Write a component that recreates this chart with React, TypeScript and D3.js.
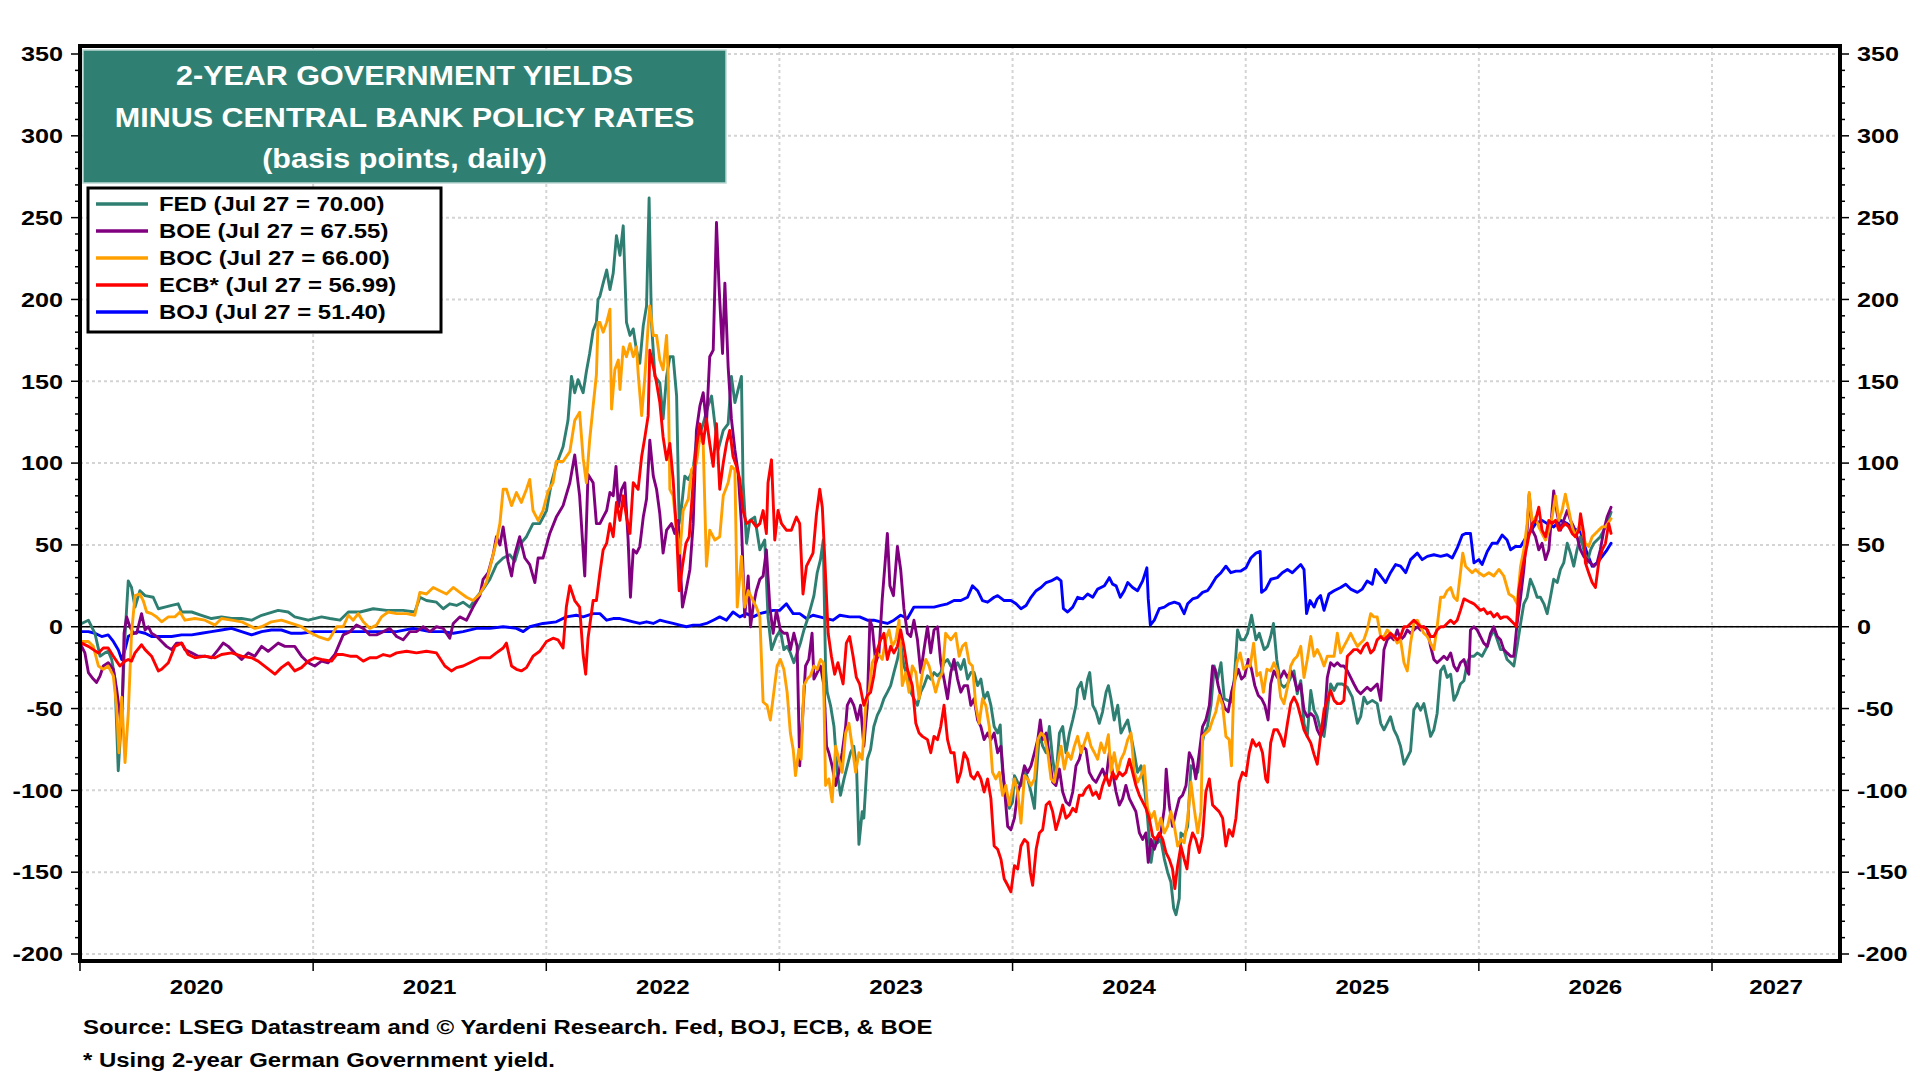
import React from "react";
import * as d3 from "d3";

type Pt = [number, number];

// time in fractional years, values in basis points
const fedData: Pt[] = [
	[2020.007, 2], [2020.036, 4], [2020.064, -4], [2020.086, -18], [2020.107, -16], [2020.121, -15], [2020.136, -20], [2020.15, -32], [2020.164, -88], [2020.179, -53], [2020.193, -6], [2020.207, 28], [2020.221, 24], [2020.236, 12], [2020.257, 22], [2020.279, 19], [2020.314, 18], [2020.336, 11], [2020.364, 12], [2020.393, 13], [2020.421, 14], [2020.436, 9], [2020.479, 9], [2020.521, 7], [2020.564, 5], [2020.607, 6], [2020.65, 5], [2020.693, 5], [2020.736, 4], [2020.779, 7], [2020.85, 10], [2020.893, 9], [2020.921, 6], [2020.979, 4], [2021.036, 6],
	[2021.072, 5], [2021.115, 4], [2021.151, 9], [2021.201, 9], [2021.258, 11], [2021.315, 10], [2021.386, 10], [2021.436, 9], [2021.458, 18], [2021.486, 16], [2021.529, 15], [2021.558, 11], [2021.586, 14], [2021.615, 13], [2021.643, 15], [2021.672, 12], [2021.701, 18], [2021.729, 23], [2021.758, 29], [2021.786, 38], [2021.815, 42], [2021.843, 44], [2021.865, 40], [2021.886, 50], [2021.915, 55], [2021.943, 63], [2021.972, 63], [2022.001, 71], [2022.022, 88], [2022.043, 99], [2022.072, 110], [2022.093, 126], [2022.108, 153], [2022.122, 143], [2022.136, 151], [2022.158, 143], [2022.172, 156], [2022.186, 167], [2022.201, 181], [2022.215, 186], [2022.222, 200],
	[2022.23, 202], [2022.244, 210], [2022.259, 218], [2022.273, 206], [2022.287, 216], [2022.301, 239], [2022.316, 227], [2022.33, 245], [2022.344, 186], [2022.359, 178], [2022.373, 182], [2022.387, 169], [2022.401, 161], [2022.416, 184], [2022.43, 196], [2022.441, 262], [2022.451, 186], [2022.466, 153], [2022.487, 149], [2022.501, 127], [2022.516, 153], [2022.53, 165], [2022.544, 165], [2022.559, 141], [2022.57, 63], [2022.58, 73], [2022.594, 92], [2022.609, 90], [2022.63, 96], [2022.644, 114], [2022.659, 118], [2022.673, 124], [2022.694, 135], [2022.709, 141], [2022.723, 124], [2022.737, 108], [2022.759, 120], [2022.78, 124], [2022.794, 153], [2022.809, 137], [2022.823, 145], [2022.837, 153], [2022.844, 88], [2022.859, 51], [2022.873, 65], [2022.894, 67], [2022.916, 47], [2022.937, 53], [2022.951, 6], [2022.966, -14], [2022.987, -6],
	[2023.004, -2], [2023.019, -14], [2023.033, -12], [2023.047, -16], [2023.062, -22], [2023.076, -16], [2023.09, -10], [2023.105, -2], [2023.119, 4], [2023.133, 11], [2023.148, 19], [2023.162, 33], [2023.176, 41], [2023.188, 53], [2023.198, -26], [2023.205, -40], [2023.219, -48], [2023.234, -61], [2023.248, -89], [2023.262, -103], [2023.277, -93], [2023.291, -85], [2023.305, -77], [2023.319, -73], [2023.331, -87], [2023.341, -133], [2023.355, -113], [2023.362, -117], [2023.377, -81], [2023.391, -75], [2023.405, -61], [2023.42, -54], [2023.434, -50], [2023.448, -44], [2023.463, -40], [2023.477, -36], [2023.491, -28], [2023.506, -20], [2023.52, -10], [2023.534, -24], [2023.549, -30], [2023.563, -40], [2023.577, -44], [2023.592, -48], [2023.606, -40], [2023.62, -36], [2023.635, -30], [2023.649, -32], [2023.663, -28], [2023.678, -30], [2023.692, -28], [2023.706, -22], [2023.721, -20], [2023.735, -24], [2023.749, -26], [2023.764, -22], [2023.778, -26], [2023.792, -20], [2023.807, -32], [2023.821, -28], [2023.835, -28], [2023.85, -36], [2023.864, -32], [2023.878, -44], [2023.893, -40], [2023.907, -48], [2023.921, -61], [2023.936, -65], [2023.947, -60], [2023.957, -89], [2023.971, -103], [2023.986, -111],
	[2024.0, -107], [2024.008, -91], [2024.022, -95], [2024.036, -97], [2024.051, -87], [2024.065, -93], [2024.079, -101], [2024.094, -111], [2024.101, -93], [2024.115, -65], [2024.129, -73], [2024.144, -77], [2024.158, -61], [2024.172, -81], [2024.186, -93], [2024.201, -65], [2024.215, -61], [2024.229, -77], [2024.244, -65], [2024.258, -57], [2024.272, -48], [2024.279, -38], [2024.294, -34], [2024.308, -44], [2024.322, -32], [2024.331, -28], [2024.344, -48], [2024.358, -52], [2024.372, -59], [2024.386, -52], [2024.401, -40], [2024.411, -36], [2024.422, -44], [2024.436, -57], [2024.451, -48], [2024.465, -65], [2024.479, -61], [2024.494, -57], [2024.508, -67], [2024.522, -77], [2024.536, -89], [2024.551, -85], [2024.565, -97], [2024.579, -117], [2024.594, -144], [2024.608, -130], [2024.622, -132], [2024.636, -130], [2024.651, -142], [2024.665, -150], [2024.679, -156], [2024.691, -172], [2024.701, -176], [2024.715, -166], [2024.722, -126], [2024.736, -128], [2024.751, -122], [2024.765, -85], [2024.779, -87], [2024.794, -89], [2024.808, -75], [2024.822, -65], [2024.836, -61], [2024.851, -48], [2024.865, -24], [2024.879, -32], [2024.894, -22], [2024.908, -44], [2024.922, -45], [2024.936, -46], [2024.951, -32], [2024.965, -2], [2024.979, -8], [2024.994, -8], [2025.008, -4], [2025.025, 7], [2025.044, -8], [2025.058, -4], [2025.079, -14], [2025.094, -12],
	[2025.107, -6], [2025.119, 2], [2025.133, -20], [2025.15, -35], [2025.164, -37], [2025.179, -35], [2025.193, -31], [2025.207, -27], [2025.221, -41], [2025.236, -33], [2025.25, -59], [2025.264, -67], [2025.279, -39], [2025.293, -51], [2025.307, -55], [2025.321, -63], [2025.336, -67], [2025.35, -51], [2025.364, -35], [2025.379, -39], [2025.393, -35], [2025.414, -35], [2025.436, -37], [2025.457, -43], [2025.479, -59], [2025.493, -55], [2025.507, -43], [2025.521, -47], [2025.543, -45], [2025.564, -47], [2025.579, -59], [2025.593, -63], [2025.607, -59], [2025.621, -55], [2025.636, -63], [2025.65, -67], [2025.664, -73], [2025.679, -84], [2025.693, -80], [2025.707, -76], [2025.721, -51], [2025.736, -47], [2025.75, -51], [2025.764, -47], [2025.779, -57], [2025.793, -67], [2025.807, -63], [2025.821, -53], [2025.836, -27], [2025.85, -24], [2025.864, -31], [2025.879, -29], [2025.893, -45], [2025.907, -41], [2025.921, -35], [2025.936, -33], [2025.95, -22], [2025.964, -18], [2025.979, -18], [2025.993, -16], [2026.014, -18], [2026.036, -12], [2026.05, -6], [2026.064, -2], [2026.079, -8], [2026.093, -14], [2026.107, -14], [2026.121, -20], [2026.136, -22], [2026.15, -24], [2026.164, -12], [2026.179, 2], [2026.193, 14], [2026.207, 18], [2026.221, 29], [2026.236, 24], [2026.25, 18], [2026.264, 18], [2026.279, 14], [2026.293, 8], [2026.307, 18], [2026.321, 29], [2026.336, 27], [2026.35, 35], [2026.364, 39], [2026.379, 51], [2026.393, 45], [2026.407, 37], [2026.421, 47], [2026.436, 55], [2026.45, 47], [2026.464, 39], [2026.479, 47], [2026.493, 51], [2026.507, 53], [2026.521, 55], [2026.536, 59], [2026.55, 63], [2026.567, 70],
];

const boeData: Pt[] = [
	[2020.007, -12], [2020.021, -16], [2020.036, -28], [2020.057, -32], [2020.071, -34], [2020.086, -30], [2020.1, -24], [2020.121, -22], [2020.143, -26], [2020.157, -38], [2020.179, -63], [2020.189, -4], [2020.2, 6], [2020.214, 0], [2020.229, -4], [2020.243, -4], [2020.264, 8], [2020.279, -2], [2020.293, 0], [2020.307, -4], [2020.329, -6], [2020.35, -9], [2020.371, -12], [2020.393, -14], [2020.414, -10], [2020.436, -10], [2020.45, -14], [2020.479, -16], [2020.507, -18], [2020.536, -18], [2020.564, -19], [2020.593, -14], [2020.614, -10], [2020.636, -12], [2020.664, -16], [2020.693, -20], [2020.721, -16], [2020.75, -18], [2020.779, -12], [2020.807, -15], [2020.85, -10], [2020.879, -12], [2020.921, -12], [2020.95, -18], [2020.979, -22], [2021.007, -24], [2021.036, -21], [2021.064, -22],
	[2021.093, -17], [2021.108, -12], [2021.129, -5], [2021.158, -3], [2021.186, 1], [2021.215, -1], [2021.243, -5], [2021.272, -5], [2021.301, -3], [2021.329, -1], [2021.358, -6], [2021.386, -8], [2021.415, -3], [2021.443, -3], [2021.472, 0], [2021.501, -3], [2021.529, 0], [2021.558, -1], [2021.586, -7], [2021.601, 2], [2021.629, 6], [2021.658, 4], [2021.686, 12], [2021.715, 19], [2021.729, 29], [2021.751, 33], [2021.772, 44], [2021.786, 55], [2021.801, 50], [2021.815, 61], [2021.836, 40], [2021.851, 31], [2021.865, 44], [2021.886, 55], [2021.908, 42], [2021.929, 38], [2021.951, 27], [2021.965, 42], [2021.986, 42], [2022.015, 57], [2022.043, 67], [2022.072, 74], [2022.101, 88], [2022.122, 105], [2022.143, 80], [2022.165, 31], [2022.179, 93], [2022.201, 88], [2022.215, 63],
	[2022.23, 63], [2022.244, 67], [2022.259, 71], [2022.273, 82], [2022.287, 80], [2022.299, 98], [2022.309, 73], [2022.323, 84], [2022.337, 88], [2022.351, 53], [2022.361, 18], [2022.373, 47], [2022.387, 45], [2022.401, 49], [2022.416, 67], [2022.43, 78], [2022.444, 114], [2022.459, 92], [2022.473, 84], [2022.487, 69], [2022.501, 45], [2022.516, 59], [2022.537, 63], [2022.551, 57], [2022.566, 65], [2022.573, 43], [2022.584, 12], [2022.599, 22], [2022.616, 35], [2022.63, 63], [2022.644, 120], [2022.659, 135], [2022.673, 143], [2022.687, 124], [2022.701, 165], [2022.716, 169], [2022.73, 247], [2022.741, 208], [2022.756, 167], [2022.766, 210], [2022.78, 159], [2022.794, 127], [2022.809, 108], [2022.823, 94], [2022.837, 63], [2022.851, 6], [2022.866, 31], [2022.876, 0], [2022.887, 12], [2022.901, 22], [2022.916, 29], [2022.93, 31], [2022.944, 47], [2022.959, 12], [2022.973, -4], [2022.987, 10],
	[2023.004, -2], [2023.019, -4], [2023.033, -4], [2023.047, -14], [2023.062, -4], [2023.076, -12], [2023.087, -85], [2023.097, -61], [2023.112, -24], [2023.126, -20], [2023.14, -4], [2023.148, -32], [2023.162, -28], [2023.176, -24], [2023.191, -36], [2023.202, -73], [2023.212, -77], [2023.226, -85], [2023.241, -97], [2023.255, -89], [2023.269, -77], [2023.284, -61], [2023.291, -48], [2023.305, -44], [2023.319, -48], [2023.334, -57], [2023.348, -48], [2023.362, -73], [2023.377, -48], [2023.388, 4], [2023.398, 0], [2023.413, -22], [2023.427, -16], [2023.441, 17], [2023.451, 35], [2023.463, 57], [2023.474, 25], [2023.489, 19], [2023.506, 49], [2023.52, 35], [2023.534, 11], [2023.549, -4], [2023.563, -6], [2023.577, 4], [2023.592, -8], [2023.606, -28], [2023.62, -14], [2023.635, 0], [2023.649, -16], [2023.663, -2], [2023.678, 0], [2023.692, -22], [2023.706, -32], [2023.721, -44], [2023.735, -28], [2023.749, -20], [2023.764, -32], [2023.778, -40], [2023.792, -36], [2023.807, -36], [2023.821, -48], [2023.835, -44], [2023.85, -57], [2023.864, -61], [2023.878, -69], [2023.893, -65], [2023.907, -69], [2023.921, -65], [2023.936, -77], [2023.95, -73], [2023.964, -97], [2023.979, -122], [2023.993, -124],
	[2024.008, -117], [2024.022, -101], [2024.036, -95], [2024.051, -85], [2024.065, -89], [2024.079, -85], [2024.094, -77], [2024.108, -69], [2024.119, -57], [2024.129, -69], [2024.144, -65], [2024.158, -79], [2024.172, -95], [2024.186, -97], [2024.201, -87], [2024.215, -101], [2024.229, -107], [2024.244, -109], [2024.258, -101], [2024.272, -85], [2024.286, -81], [2024.301, -73], [2024.315, -75], [2024.329, -89], [2024.344, -93], [2024.358, -95], [2024.372, -91], [2024.386, -87], [2024.401, -93], [2024.415, -77], [2024.429, -89], [2024.444, -101], [2024.458, -109], [2024.472, -105], [2024.486, -97], [2024.501, -105], [2024.515, -109], [2024.529, -113], [2024.544, -126], [2024.558, -130], [2024.572, -126], [2024.582, -144], [2024.594, -130], [2024.608, -136], [2024.622, -130], [2024.636, -126], [2024.651, -111], [2024.659, -87], [2024.672, -109], [2024.686, -122], [2024.701, -113], [2024.715, -105], [2024.729, -103], [2024.744, -97], [2024.758, -77], [2024.772, -81], [2024.786, -93], [2024.801, -77], [2024.815, -61], [2024.829, -57], [2024.844, -48], [2024.858, -24], [2024.868, -26], [2024.882, -36], [2024.896, -44], [2024.911, -50], [2024.925, -52], [2024.939, -40], [2024.954, -32], [2024.968, -26], [2024.982, -32], [2024.996, -30], [2025.011, -20], [2025.025, -26], [2025.039, -36], [2025.054, -42], [2025.068, -44], [2025.082, -48], [2025.096, -57],
	[2025.107, -35], [2025.121, -27], [2025.136, -31], [2025.15, -31], [2025.164, -27], [2025.179, -31], [2025.193, -27], [2025.207, -31], [2025.221, -39], [2025.236, -35], [2025.25, -51], [2025.264, -55], [2025.279, -53], [2025.293, -55], [2025.307, -63], [2025.321, -67], [2025.336, -61], [2025.35, -31], [2025.364, -22], [2025.379, -24], [2025.393, -22], [2025.407, -24], [2025.421, -24], [2025.436, -27], [2025.45, -31], [2025.464, -35], [2025.479, -39], [2025.493, -41], [2025.507, -39], [2025.521, -37], [2025.536, -39], [2025.55, -37], [2025.564, -35], [2025.579, -45], [2025.593, -14], [2025.607, -8], [2025.621, -6], [2025.636, -8], [2025.65, -2], [2025.664, -8], [2025.679, -6], [2025.693, -2], [2025.707, -4], [2025.721, -2], [2025.736, 0], [2025.75, -2], [2025.764, 0], [2025.779, -2], [2025.793, -12], [2025.807, -20], [2025.821, -22], [2025.836, -20], [2025.85, -18], [2025.864, -20], [2025.879, -16], [2025.893, -24], [2025.907, -27], [2025.921, -22], [2025.936, -20], [2025.95, -27], [2025.957, -29], [2025.964, -2], [2025.979, 0], [2025.993, -2], [2026.007, -6], [2026.021, -10], [2026.036, -12], [2026.05, -4], [2026.064, 0], [2026.079, -6], [2026.093, -8], [2026.107, -14], [2026.121, -16], [2026.136, -18], [2026.15, -18], [2026.164, 2], [2026.179, 18], [2026.193, 35], [2026.207, 59], [2026.216, 81], [2026.229, 59], [2026.243, 55], [2026.257, 47], [2026.271, 51], [2026.286, 41], [2026.3, 47], [2026.314, 71], [2026.321, 83], [2026.336, 69], [2026.35, 59], [2026.364, 65], [2026.379, 71], [2026.393, 65], [2026.407, 61], [2026.421, 55], [2026.436, 47], [2026.45, 43], [2026.464, 41], [2026.479, 39], [2026.493, 37], [2026.507, 39], [2026.521, 47], [2026.536, 59], [2026.55, 67], [2026.567, 73],
];

const bocData: Pt[] = [
	[2020.007, -9], [2020.036, -9], [2020.057, -12], [2020.079, -24], [2020.1, -26], [2020.121, -24], [2020.143, -30], [2020.157, -49], [2020.167, -77], [2020.179, -43], [2020.193, -83], [2020.207, -53], [2020.221, -4], [2020.236, 19], [2020.257, 20], [2020.271, 16], [2020.286, 9], [2020.307, 8], [2020.329, 6], [2020.35, 3], [2020.379, 6], [2020.407, 6], [2020.429, 9], [2020.45, 4], [2020.493, 5], [2020.536, 4], [2020.579, 1], [2020.607, 5], [2020.65, 4], [2020.693, 3], [2020.75, -1], [2020.779, 0], [2020.821, 3], [2020.864, 4], [2020.907, 2], [2020.95, 0], [2020.979, -3], [2021.021, -6], [2021.064, -8],
	[2021.072, -7], [2021.101, 0], [2021.129, 0], [2021.151, 7], [2021.172, 4], [2021.193, 8], [2021.215, 3], [2021.243, -1], [2021.272, 1], [2021.293, 6], [2021.322, 9], [2021.358, 8], [2021.401, 8], [2021.436, 7], [2021.458, 21], [2021.486, 20], [2021.515, 24], [2021.543, 22], [2021.572, 20], [2021.601, 24], [2021.629, 21], [2021.658, 18], [2021.686, 16], [2021.715, 20], [2021.743, 27], [2021.765, 40], [2021.786, 52], [2021.801, 63], [2021.815, 84], [2021.829, 84], [2021.851, 74], [2021.872, 82], [2021.893, 76], [2021.915, 84], [2021.929, 90], [2021.943, 71], [2021.965, 65], [2021.986, 71], [2022.008, 83], [2022.029, 88], [2022.043, 101], [2022.072, 101], [2022.101, 107], [2022.122, 126], [2022.143, 131], [2022.158, 103], [2022.172, 88], [2022.186, 114], [2022.201, 135], [2022.215, 154], [2022.222, 186],
	[2022.23, 186], [2022.244, 180], [2022.259, 186], [2022.273, 194], [2022.28, 133], [2022.294, 157], [2022.309, 163], [2022.316, 145], [2022.33, 171], [2022.344, 165], [2022.359, 173], [2022.373, 165], [2022.387, 171], [2022.394, 155], [2022.409, 129], [2022.423, 153], [2022.437, 184], [2022.444, 196], [2022.459, 178], [2022.473, 178], [2022.487, 163], [2022.501, 157], [2022.516, 178], [2022.523, 153], [2022.53, 84], [2022.544, 80], [2022.559, 59], [2022.573, 45], [2022.587, 71], [2022.609, 78], [2022.623, 96], [2022.644, 100], [2022.659, 116], [2022.673, 112], [2022.687, 37], [2022.701, 59], [2022.723, 53], [2022.744, 55], [2022.759, 80], [2022.78, 88], [2022.794, 98], [2022.809, 96], [2022.819, 12], [2022.837, 43], [2022.851, 12], [2022.866, 22], [2022.887, 16], [2022.901, 12], [2022.916, 6],
	[2022.93, -46], [2022.947, -48], [2022.961, -57], [2022.976, -40], [2022.99, -24], [2023.004, -20], [2023.019, -26], [2023.033, -40], [2023.047, -65], [2023.059, -75], [2023.069, -91], [2023.083, -75], [2023.093, -81], [2023.105, -36], [2023.119, -32], [2023.133, -30], [2023.148, -24], [2023.162, -26], [2023.176, -20], [2023.188, -22], [2023.198, -97], [2023.212, -93], [2023.226, -107], [2023.241, -73], [2023.255, -81], [2023.269, -89], [2023.284, -65], [2023.298, -59], [2023.312, -73], [2023.327, -89], [2023.341, -77], [2023.355, -81], [2023.37, -48], [2023.384, -40], [2023.398, -22], [2023.42, -16], [2023.441, -20], [2023.456, -8], [2023.47, -2], [2023.484, -12], [2023.499, -8], [2023.513, 4], [2023.527, -36], [2023.542, -28], [2023.556, -40], [2023.57, -24], [2023.585, -28], [2023.599, -44], [2023.613, -28], [2023.628, -20], [2023.642, -24], [2023.656, -32], [2023.67, -40], [2023.685, -32], [2023.699, -28], [2023.713, -4], [2023.735, -8], [2023.756, -4], [2023.771, -18], [2023.785, -12], [2023.799, -10], [2023.814, -22], [2023.828, -24], [2023.842, -48], [2023.857, -59], [2023.871, -44], [2023.885, -48], [2023.9, -61], [2023.914, -89], [2023.928, -93], [2023.943, -89], [2023.957, -103], [2023.971, -97], [2023.986, -109],
	[2024.008, -93], [2024.022, -101], [2024.036, -120], [2024.051, -91], [2024.065, -93], [2024.079, -97], [2024.094, -93], [2024.108, -69], [2024.122, -65], [2024.136, -67], [2024.151, -77], [2024.165, -93], [2024.179, -95], [2024.194, -83], [2024.208, -73], [2024.222, -87], [2024.236, -77], [2024.251, -81], [2024.265, -73], [2024.279, -67], [2024.294, -77], [2024.308, -71], [2024.322, -65], [2024.336, -73], [2024.351, -77], [2024.365, -81], [2024.379, -71], [2024.394, -77], [2024.411, -66], [2024.422, -89], [2024.436, -77], [2024.451, -89], [2024.465, -81], [2024.479, -77], [2024.494, -69], [2024.508, -65], [2024.522, -89], [2024.536, -95], [2024.551, -91], [2024.565, -85], [2024.579, -111], [2024.594, -117], [2024.608, -113], [2024.622, -124], [2024.636, -117], [2024.651, -126], [2024.665, -122], [2024.679, -113], [2024.694, -122], [2024.708, -134], [2024.722, -130], [2024.736, -132], [2024.751, -117], [2024.765, -95], [2024.779, -111], [2024.794, -126], [2024.808, -113], [2024.815, -67], [2024.829, -65], [2024.844, -63], [2024.858, -57], [2024.872, -52], [2024.886, -42], [2024.901, -48], [2024.915, -67], [2024.929, -69], [2024.939, -85], [2024.948, -40], [2024.962, -22], [2024.976, -16], [2024.991, -26], [2025.005, -24], [2025.019, -24], [2025.034, -10], [2025.048, -30], [2025.062, -28], [2025.076, -40], [2025.091, -26],
	[2025.107, -27], [2025.121, -22], [2025.136, -27], [2025.15, -43], [2025.164, -47], [2025.179, -37], [2025.193, -24], [2025.207, -20], [2025.221, -18], [2025.236, -12], [2025.25, -31], [2025.264, -20], [2025.279, -6], [2025.293, -18], [2025.307, -14], [2025.321, -18], [2025.336, -24], [2025.35, -18], [2025.379, -18], [2025.393, -4], [2025.407, -16], [2025.421, -12], [2025.436, -8], [2025.45, -4], [2025.464, -8], [2025.479, -12], [2025.493, -10], [2025.507, -8], [2025.521, -2], [2025.536, 8], [2025.55, 6], [2025.564, 6], [2025.579, -6], [2025.593, -6], [2025.607, -2], [2025.621, -4], [2025.636, -6], [2025.65, -10], [2025.664, -8], [2025.679, -22], [2025.693, -27], [2025.707, -10], [2025.721, 2], [2025.736, 4], [2025.75, 0], [2025.764, -4], [2025.779, -6], [2025.793, -10], [2025.807, -14], [2025.821, 0], [2025.836, 18], [2025.85, 18], [2025.864, 22], [2025.879, 24], [2025.893, 18], [2025.907, 16], [2025.921, 33], [2025.931, 45], [2025.943, 37], [2025.957, 35], [2025.971, 33], [2025.986, 35], [2026.0, 33], [2026.021, 31], [2026.043, 33], [2026.064, 31], [2026.086, 35], [2026.107, 31], [2026.129, 20], [2026.15, 18], [2026.164, 14], [2026.179, 37], [2026.193, 47], [2026.207, 63], [2026.216, 82], [2026.229, 63], [2026.243, 67], [2026.257, 61], [2026.271, 57], [2026.286, 53], [2026.3, 59], [2026.314, 67], [2026.329, 80], [2026.343, 65], [2026.357, 71], [2026.371, 81], [2026.386, 71], [2026.4, 61], [2026.414, 55], [2026.429, 61], [2026.443, 59], [2026.457, 51], [2026.471, 49], [2026.486, 55], [2026.5, 57], [2026.514, 59], [2026.529, 61], [2026.543, 61], [2026.567, 66],
];

const ecbData: Pt[] = [
	[2020.007, -10], [2020.036, -12], [2020.057, -14], [2020.079, -16], [2020.1, -13], [2020.121, -13], [2020.143, -18], [2020.157, -21], [2020.171, -24], [2020.193, -21], [2020.207, -20], [2020.221, -21], [2020.236, -16], [2020.264, -11], [2020.279, -14], [2020.307, -18], [2020.336, -27], [2020.35, -26], [2020.379, -22], [2020.407, -12], [2020.436, -10], [2020.464, -17], [2020.493, -19], [2020.536, -18], [2020.579, -19], [2020.607, -17], [2020.65, -16], [2020.693, -18], [2020.736, -19], [2020.764, -21], [2020.8, -25], [2020.836, -29], [2020.864, -25], [2020.893, -22], [2020.921, -27], [2020.95, -25], [2020.979, -21], [2021.007, -19], [2021.036, -20], [2021.079, -21],
	[2021.101, -17], [2021.129, -17], [2021.158, -18], [2021.186, -18], [2021.215, -21], [2021.243, -19], [2021.272, -19], [2021.301, -17], [2021.329, -18], [2021.358, -16], [2021.401, -15], [2021.443, -16], [2021.486, -15], [2021.529, -16], [2021.565, -24], [2021.593, -27], [2021.615, -25], [2021.643, -24], [2021.672, -22], [2021.715, -19], [2021.758, -19], [2021.786, -16], [2021.815, -13], [2021.829, -10], [2021.851, -24], [2021.872, -26], [2021.893, -27], [2021.915, -25], [2021.943, -18], [2021.972, -15], [2022.001, -9], [2022.029, -7], [2022.05, -8], [2022.072, -13], [2022.086, 12], [2022.101, 25], [2022.122, 16], [2022.143, 12], [2022.158, -17], [2022.169, -29], [2022.179, -7], [2022.201, 16], [2022.215, 16],
	[2022.23, 33], [2022.244, 47], [2022.259, 51], [2022.273, 63], [2022.287, 55], [2022.301, 76], [2022.316, 65], [2022.33, 80], [2022.344, 67], [2022.359, 57], [2022.373, 88], [2022.394, 84], [2022.409, 104], [2022.423, 116], [2022.437, 129], [2022.444, 169], [2022.459, 159], [2022.473, 149], [2022.487, 137], [2022.501, 116], [2022.516, 102], [2022.53, 112], [2022.544, 90], [2022.559, 57], [2022.57, 22], [2022.584, 37], [2022.599, 51], [2022.613, 55], [2022.63, 88], [2022.644, 110], [2022.659, 124], [2022.673, 112], [2022.687, 127], [2022.701, 112], [2022.716, 98], [2022.73, 124], [2022.744, 84], [2022.759, 100], [2022.773, 112], [2022.787, 120], [2022.801, 104], [2022.816, 98], [2022.83, 90], [2022.844, 71], [2022.859, 63], [2022.88, 65], [2022.901, 61], [2022.916, 63], [2022.93, 71], [2022.944, 57], [2022.951, 88], [2022.966, 102], [2022.98, 53], [2022.994, 71], [2023.009, 63], [2023.03, 59], [2023.051, 59], [2023.073, 67], [2023.087, 63], [2023.101, 20], [2023.116, 37], [2023.13, 41], [2023.144, 45], [2023.159, 69], [2023.173, 84], [2023.184, 73], [2023.194, 43], [2023.209, -4], [2023.223, -18], [2023.237, -29], [2023.251, -22], [2023.273, -35], [2023.287, -10], [2023.301, -6], [2023.316, -18], [2023.33, -31], [2023.344, -35],
	[2023.362, -48], [2023.377, -42], [2023.391, -40], [2023.405, -30], [2023.42, -14], [2023.434, -8], [2023.448, -4], [2023.463, -20], [2023.477, -12], [2023.491, -16], [2023.506, -12], [2023.52, -2], [2023.534, -12], [2023.549, -26], [2023.57, -36], [2023.585, -59], [2023.599, -65], [2023.613, -67], [2023.635, -69], [2023.649, -77], [2023.663, -67], [2023.678, -69], [2023.692, -61], [2023.706, -48], [2023.721, -69], [2023.735, -77], [2023.749, -77], [2023.764, -95], [2023.778, -89], [2023.792, -77], [2023.807, -81], [2023.821, -91], [2023.835, -93], [2023.85, -89], [2023.864, -93], [2023.878, -101], [2023.893, -93], [2023.907, -105], [2023.921, -134], [2023.936, -136], [2023.95, -142], [2023.964, -154], [2023.979, -158], [2023.993, -162],
	[2024.008, -146], [2024.022, -148], [2024.036, -134], [2024.051, -130], [2024.065, -132], [2024.076, -150], [2024.086, -158], [2024.101, -136], [2024.115, -126], [2024.129, -124], [2024.144, -109], [2024.158, -107], [2024.172, -113], [2024.186, -124], [2024.201, -117], [2024.215, -109], [2024.229, -117], [2024.244, -115], [2024.258, -111], [2024.272, -113], [2024.286, -103], [2024.301, -103], [2024.315, -99], [2024.329, -97], [2024.344, -103], [2024.358, -101], [2024.372, -105], [2024.386, -97], [2024.401, -91], [2024.415, -97], [2024.429, -89], [2024.444, -93], [2024.458, -89], [2024.472, -91], [2024.486, -89], [2024.501, -81], [2024.515, -89], [2024.529, -97], [2024.544, -103], [2024.558, -107], [2024.572, -111], [2024.586, -117], [2024.601, -128], [2024.615, -130], [2024.629, -126], [2024.644, -130], [2024.658, -138], [2024.672, -142], [2024.686, -148], [2024.696, -160], [2024.708, -146], [2024.722, -134], [2024.736, -142], [2024.748, -148], [2024.758, -134], [2024.772, -126], [2024.786, -130], [2024.801, -138], [2024.815, -128], [2024.829, -101], [2024.844, -93], [2024.858, -109], [2024.872, -111], [2024.886, -113], [2024.901, -117], [2024.915, -134], [2024.929, -124], [2024.944, -128], [2024.958, -117], [2024.972, -95], [2024.986, -89], [2025.001, -91], [2025.015, -77], [2025.029, -69], [2025.044, -73], [2025.058, -71], [2025.072, -77], [2025.086, -93], [2025.094, -95],
	[2025.107, -71], [2025.121, -63], [2025.136, -63], [2025.15, -67], [2025.164, -73], [2025.179, -59], [2025.193, -47], [2025.207, -43], [2025.221, -47], [2025.236, -55], [2025.25, -63], [2025.264, -67], [2025.279, -71], [2025.293, -78], [2025.307, -84], [2025.321, -67], [2025.336, -51], [2025.35, -45], [2025.364, -39], [2025.379, -45], [2025.393, -47], [2025.407, -47], [2025.421, -45], [2025.436, -18], [2025.45, -16], [2025.464, -14], [2025.479, -14], [2025.493, -16], [2025.507, -12], [2025.521, -10], [2025.536, -16], [2025.55, -14], [2025.564, -8], [2025.579, -6], [2025.593, -8], [2025.607, -6], [2025.621, -4], [2025.636, -6], [2025.65, -8], [2025.664, -6], [2025.679, 0], [2025.693, 0], [2025.707, 2], [2025.721, 4], [2025.736, 2], [2025.75, 0], [2025.764, 0], [2025.779, -2], [2025.793, -6], [2025.807, -6], [2025.821, -2], [2025.836, 0], [2025.85, 0], [2025.864, 2], [2025.879, 4], [2025.893, 2], [2025.907, 4], [2025.921, 10], [2025.936, 17], [2025.95, 16], [2025.964, 15], [2025.979, 14], [2025.993, 12], [2026.007, 10], [2026.021, 11], [2026.036, 8], [2026.05, 9], [2026.064, 6], [2026.079, 8], [2026.093, 5], [2026.107, 6], [2026.121, 6], [2026.136, 4], [2026.15, 2], [2026.161, 0], [2026.171, 22], [2026.186, 35], [2026.2, 45], [2026.214, 55], [2026.229, 63], [2026.243, 65], [2026.257, 73], [2026.271, 59], [2026.286, 55], [2026.3, 65], [2026.314, 63], [2026.329, 65], [2026.343, 59], [2026.357, 61], [2026.371, 63], [2026.386, 61], [2026.4, 57], [2026.414, 55], [2026.429, 59], [2026.436, 69], [2026.45, 57], [2026.457, 39], [2026.471, 33], [2026.486, 27], [2026.5, 24], [2026.514, 39], [2026.529, 47], [2026.543, 51], [2026.557, 63], [2026.567, 57],
];

const bojData: Pt[] = [
	[2020.007, -3], [2020.036, -3], [2020.064, -4], [2020.093, -6], [2020.121, -5], [2020.143, -9], [2020.164, -14], [2020.179, -20], [2020.193, -14], [2020.207, -6], [2020.229, -4], [2020.25, -3], [2020.279, -4], [2020.307, -6], [2020.35, -6], [2020.393, -6], [2020.436, -5], [2020.479, -5], [2020.521, -4], [2020.564, -3], [2020.607, -2], [2020.65, -1], [2020.693, -3], [2020.736, -5], [2020.779, -3], [2020.821, -2], [2020.864, -2], [2020.907, -4], [2020.95, -4], [2021.007, -3], [2021.05, -3],
	[2021.129, -3], [2021.186, -3], [2021.243, -3], [2021.301, -3], [2021.358, -3], [2021.429, -1], [2021.501, -3], [2021.558, -3], [2021.601, -4], [2021.643, -3], [2021.701, -1], [2021.758, -1], [2021.815, 0], [2021.872, -1], [2021.901, -3], [2021.929, 0], [2021.986, 2], [2022.043, 3], [2022.086, 6], [2022.129, 7], [2022.158, 6], [2022.201, 8],
	[2022.23, 8], [2022.259, 4], [2022.287, 5], [2022.316, 5], [2022.344, 4], [2022.373, 3], [2022.401, 2], [2022.43, 3], [2022.459, 2], [2022.487, 4], [2022.516, 3], [2022.544, 2], [2022.573, 1], [2022.601, 0], [2022.63, 1], [2022.659, 1], [2022.687, 2], [2022.716, 4], [2022.744, 6], [2022.773, 4], [2022.801, 9], [2022.83, 6], [2022.859, 8], [2022.887, 6], [2022.916, 8], [2022.944, 9], [2022.973, 10], [2023.001, 10], [2023.03, 14], [2023.059, 8], [2023.087, 8], [2023.116, 5], [2023.144, 7], [2023.173, 6], [2023.201, 5], [2023.23, 4], [2023.259, 7], [2023.301, 6], [2023.344, 6],
	[2023.377, 4], [2023.405, 4], [2023.434, 3], [2023.463, 2], [2023.491, 4], [2023.52, 7], [2023.549, 5], [2023.577, 12], [2023.606, 12], [2023.635, 12], [2023.663, 12], [2023.692, 13], [2023.721, 14], [2023.749, 16], [2023.778, 16], [2023.807, 18], [2023.828, 25], [2023.85, 22], [2023.871, 16], [2023.893, 15], [2023.921, 18], [2023.936, 19], [2023.964, 16], [2023.993, 16],
	[2024.015, 14], [2024.036, 11], [2024.058, 13], [2024.079, 18], [2024.101, 22], [2024.122, 24], [2024.144, 27], [2024.165, 28], [2024.191, 30], [2024.208, 28], [2024.218, 11], [2024.236, 9], [2024.258, 12], [2024.279, 18], [2024.301, 17], [2024.322, 20], [2024.344, 18], [2024.365, 23], [2024.394, 25], [2024.415, 30], [2024.429, 26], [2024.444, 25], [2024.462, 18], [2024.479, 22], [2024.494, 27], [2024.515, 24], [2024.536, 22], [2024.558, 28], [2024.576, 36], [2024.582, 17], [2024.591, 1], [2024.608, 4], [2024.629, 11], [2024.651, 12], [2024.672, 14], [2024.694, 15], [2024.715, 14], [2024.736, 8], [2024.751, 14], [2024.772, 17], [2024.794, 18], [2024.815, 21], [2024.836, 22], [2024.851, 25], [2024.872, 30], [2024.894, 33], [2024.915, 37], [2024.936, 33], [2024.958, 34], [2024.979, 34], [2025.001, 36], [2025.022, 42], [2025.044, 45], [2025.062, 46], [2025.068, 21], [2025.086, 23], [2025.108, 29],
	[2025.136, 30], [2025.157, 33], [2025.179, 35], [2025.2, 33], [2025.214, 35], [2025.236, 38], [2025.25, 35], [2025.261, 8], [2025.276, 16], [2025.293, 12], [2025.307, 17], [2025.321, 19], [2025.336, 10], [2025.357, 20], [2025.379, 22], [2025.407, 24], [2025.429, 26], [2025.45, 23], [2025.479, 21], [2025.5, 23], [2025.521, 28], [2025.543, 26], [2025.557, 35], [2025.579, 31], [2025.6, 27], [2025.621, 33], [2025.643, 38], [2025.664, 37], [2025.686, 33], [2025.707, 41], [2025.736, 45], [2025.757, 41], [2025.779, 43], [2025.807, 44], [2025.836, 43], [2025.864, 44], [2025.886, 42], [2025.907, 48], [2025.929, 56], [2025.943, 57], [2025.964, 57], [2025.979, 39], [2026.0, 41], [2026.014, 38], [2026.036, 46], [2026.057, 51], [2026.079, 51], [2026.1, 56], [2026.121, 53], [2026.136, 47], [2026.157, 49], [2026.179, 49], [2026.2, 54], [2026.221, 58], [2026.243, 63], [2026.271, 65], [2026.293, 63], [2026.321, 61], [2026.35, 65], [2026.379, 63], [2026.407, 60], [2026.436, 58], [2026.464, 45], [2026.486, 37], [2026.507, 39], [2026.529, 43], [2026.55, 47], [2026.567, 51],
];

const legendLabels = [
	"FED (Jul 27 = 70.00)",
	"BOE (Jul 27 = 67.55)",
	"BOC (Jul 27 = 66.00)",
	"ECB* (Jul 27 = 56.99)",
	"BOJ (Jul 27 = 51.40)",
];
const seriesColors = ["#2e7f72", "#800080", "#ffa000", "#ff0000", "#0000ff"];
const seriesData = [fedData, boeData, bocData, ecbData, bojData];
const drawOrder = [4, 0, 1, 2, 3];

const yTicks = [-200, -150, -100, -50, 0, 50, 100, 150, 200, 250, 300, 350];
const yearTicks = [2020, 2021, 2022, 2023, 2024, 2025, 2026, 2027];
const titleLines = [
	"2-YEAR GOVERNMENT YIELDS",
	"MINUS CENTRAL BANK POLICY RATES",
	"(basis points, daily)",
];
const footnotes = [
	"Source: LSEG Datastream and \u00a9 Yardeni Research. Fed, BOJ, ECB, & BOE",
	"* Using 2-year German Government yield.",
];

const FONT = "'Liberation Sans', Arial, Helvetica, sans-serif";

// the original lettering is a bit wider than Arial, so stretch horizontally
const WideText: React.FC<{
	x: number;
	y: number;
	sx: number;
	anchor?: "start" | "middle" | "end";
	size: number;
	fill?: string;
	children: React.ReactNode;
}> = ({ x, y, sx, anchor = "start", size, fill = "#000", children }) => (
	<text
		transform={`translate(${x},${y}) scale(${sx},1)`}
		textAnchor={anchor}
		dominantBaseline="central"
		fontSize={size}
		fill={fill}>
		{children}
	</text>
);

const App: React.FC = () => {
	const plot = { left: 80, right: 1840, top: 46, bottom: 961 };
	const xMax = 2027 + (plot.right - 1712) / 233.14;

	const x = d3.scaleLinear().domain([2020, 2027]).range([plot.left, 1712]);
	const y = d3.scaleLinear().domain([-200, 350]).range([954, 54]);

	const line = d3
		.line<Pt>()
		.x((d) => x(d[0]))
		.y((d) => y(d[1]));

	const minorTicks = d3.range(-200, 351, 10);

	return (
		<svg
			width={1920}
			height={1080}
			style={{ position: "absolute", left: 0, top: 0, background: "#fff" }}
			fontFamily={FONT}
			fontWeight="bold">
			{/* grid */}
			<g stroke="#d4d4d4" strokeWidth={2} strokeDasharray="3,3">
				{yTicks.map((t) => (
					<line key={t} x1={plot.left} x2={plot.right} y1={y(t)} y2={y(t)} />
				))}
				{yearTicks.slice(1).map((t) => (
					<line key={t} x1={x(t)} x2={x(t)} y1={plot.top} y2={plot.bottom} />
				))}
			</g>

			{/* zero line */}
			<line x1={plot.left} x2={plot.right} y1={y(0)} y2={y(0)} stroke="#000" strokeWidth={1.3} />

			{/* series */}
			<g fill="none" strokeWidth={2.9} strokeLinejoin="round" strokeLinecap="round">
				{drawOrder.map((i) => (
					<path key={i} d={line(seriesData[i]) || ""} stroke={seriesColors[i]} />
				))}
			</g>

			{/* ticks */}
			<g stroke="#000" strokeWidth={1.5}>
				{minorTicks.map((t) => {
					const len = t % 50 === 0 ? 9 : 5;
					return (
						<g key={t}>
							<line x1={plot.left - len} x2={plot.left} y1={y(t)} y2={y(t)} />
							<line x1={plot.right} x2={plot.right + len} y1={y(t)} y2={y(t)} />
						</g>
					);
				})}
				{yearTicks.map((t) => (
					<line key={t} x1={x(t)} x2={x(t)} y1={plot.bottom} y2={plot.bottom + 10} />
				))}
			</g>

			{/* y labels */}
			{yTicks.map((t) => (
				<g key={t}>
					<WideText x={63} y={y(t)} sx={1.2} anchor="end" size={21}>
						{t}
					</WideText>
					<WideText x={1857} y={y(t)} sx={1.2} size={21}>
						{t}
					</WideText>
				</g>
			))}

			{/* year labels centred in each year */}
			{yearTicks.map((t) => {
				const a = x(t);
				const b = Math.min(x(t + 1), x(xMax));
				return (
					<WideText key={t} x={(a + b) / 2} y={987} sx={1.15} anchor="middle" size={21}>
						{t}
					</WideText>
				);
			})}

			{/* frame */}
			<rect
				x={plot.left}
				y={plot.top}
				width={plot.right - plot.left}
				height={plot.bottom - plot.top}
				fill="none"
				stroke="#000"
				strokeWidth={4}
			/>

			{/* title box */}
			<rect x={83} y={50} width={643} height={133} fill="#2f7f72" stroke="#bcd8d2" strokeWidth={1.5} />
			{titleLines.map((s, i) => (
				<WideText key={i} x={404.5} y={75 + i * 41.7} sx={1.09} anchor="middle" size={28} fill="#fff">
					{s}
				</WideText>
			))}

			{/* legend */}
			<rect x={88} y={188} width={353} height={144} fill="#fff" stroke="#000" strokeWidth={3} />
			{legendLabels.map((s, i) => (
				<g key={i}>
					<line
						x1={96}
						x2={148}
						y1={204 + i * 27}
						y2={204 + i * 27}
						stroke={seriesColors[i]}
						strokeWidth={3.5}
					/>
					<WideText x={159} y={204 + i * 27} sx={1.14} size={21}>
						{s}
					</WideText>
				</g>
			))}

			{/* footnotes */}
			{footnotes.map((s, i) => (
				<WideText key={i} x={83} y={1027 + i * 33} sx={1.14} size={21}>
					{s}
				</WideText>
			))}
		</svg>
	);
};

export default App;
